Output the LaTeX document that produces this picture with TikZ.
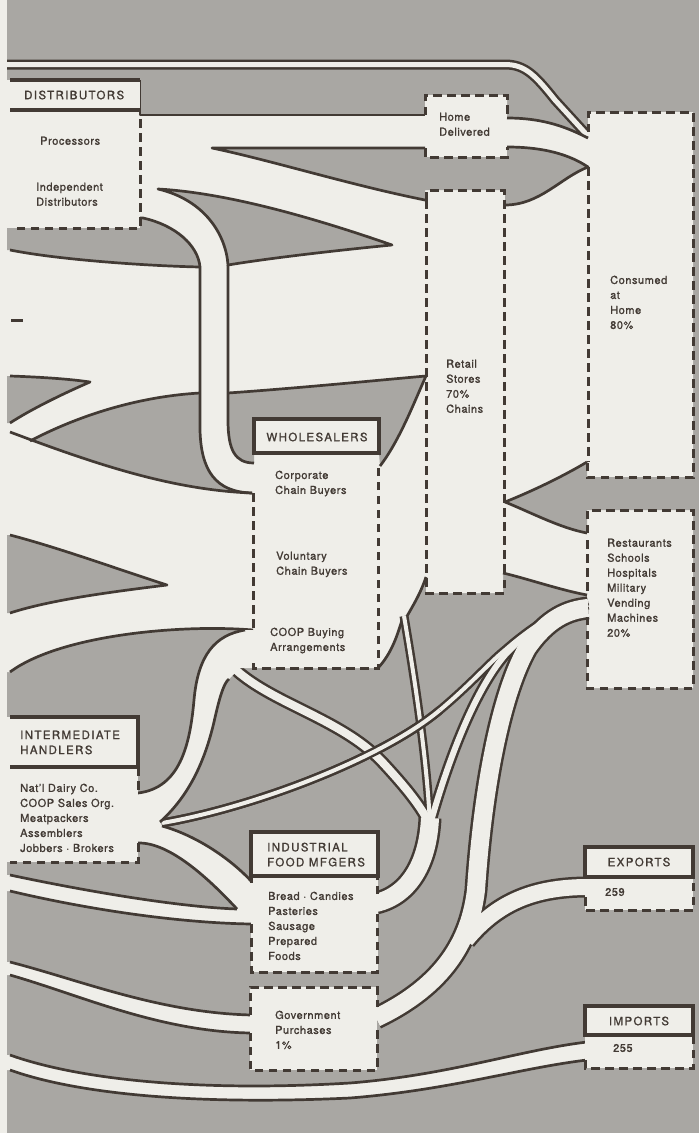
\documentclass[tikz,border=0pt]{standalone}
\usepackage{fontspec}
\setmainfont{TeX Gyre Heros}
\newfontfamily\txtfont[LetterSpace=5,FakeBold=1.2]{TeX Gyre Heros}
\newfontfamily\headfont[LetterSpace=12,FakeBold=1.2]{TeX Gyre Heros}
\definecolor{paper}{RGB}{239,238,233}
\definecolor{tone}{RGB}{169,167,163}
\definecolor{ink}{RGB}{66,58,52}
\tikzset{
  rim/.style={draw=ink,line width=2.7pt,line join=round},
  dashrim/.style={draw=ink,line width=3pt,dash pattern=on 8.5pt off 5.5pt},
  headrim/.style={draw=ink,line width=3.2pt},
  pipeink/.style={draw=ink,line width=#1+5pt},
  pipepaper/.style={draw=paper,line width=#1},
  txt/.style={anchor=north west,align=left,inner sep=0pt,text=ink,font=\txtfont\fontsize{11}{15}\selectfont},
  headtxt/.style={align=left,inner sep=0pt,text=ink,font=\headfont\fontsize{11.5}{15}\selectfont}
}
\begin{document}
\begin{tikzpicture}[x=1pt,y=1pt,yscale=-1]
\useasboundingbox (0,0) rectangle (699,1133);
%Shape: Rectangle (page and grey ground)
\fill[paper] (0,0) rectangle (699,1133);
\fill[tone] (7,0) rectangle (699,1133);

%Straight Lines (double line at the top)
\draw[pipeink=5pt] (7,64.5) -- (505,64.5) .. controls (525,64.5) and (535,75) .. (555,100) -- (588,136);
\draw[pipepaper=5pt] (7,64.5) -- (505,64.5) .. controls (525,64.5) and (535,75) .. (555,100) -- (588,136);

%Shape: Polygon (upper white field)
\fill[paper] (7,110) -- (140,110) -- (140,115) -- (425,115) -- (425,95) -- (507,95) -- (507,118) .. controls (545,118) and (568,128) .. (588,138) -- (588,112) -- (693,112) -- (693,688) -- (587,688) -- (587,595) .. controls (560,590) and (525,578) .. (503,573) -- (503,593) -- (426,593) -- (426,577) .. controls (420,595) and (412,607) .. (406,618) -- (402,620) .. controls (396,640) and (390,655) .. (378,668) -- (253,668) -- (253,630) .. controls (180,624) and (60,635) .. (10,672) -- (7,672) -- cycle;
\draw[rim] (140,80) -- (140,115) -- (425,115);
\draw[rim] (507,118) .. controls (545,118) and (568,128) .. (588,138);
\draw[rim] (587,595) .. controls (560,590) and (525,578) .. (503,573);
\draw[rim] (426,577) .. controls (420,595) and (412,607) .. (406,618);
\draw[rim] (402,620) .. controls (396,640) and (390,655) .. (378,668);
\draw[rim] (253,630) .. controls (180,624) and (60,635) .. (10,672);

%Shape: Polygon (wedge under Home Delivered)
\fill[tone] (212,148) -- (425,148) -- (425,157) -- (507,157) -- (507,147) .. controls (545,147) and (570,155) .. (588,167) .. controls (560,178) and (540,205) .. (505,205) -- (505,190) -- (425,190) -- (425,200) .. controls (350,185) and (270,160) .. (212,148) -- cycle;
\draw[rim] (425,148) -- (212,148) .. controls (270,160) and (350,185) .. (425,200);
\draw[rim] (507,147) .. controls (545,147) and (570,155) .. (588,167) .. controls (560,178) and (540,205) .. (505,205);
%Shape: Polygon (wedge beside the down stream)
\fill[tone] (158,189) .. controls (230,193) and (320,220) .. (392,245) .. controls (340,250) and (270,258) .. (228,265) .. controls (226,235) and (205,200) .. (158,189) -- cycle;
\draw[rim] (158,189) .. controls (230,193) and (320,220) .. (392,245) .. controls (340,250) and (270,258) .. (228,265) .. controls (226,235) and (205,200) .. (158,189) -- cycle;
%Shape: Polygon (under Distributors)
\fill[tone] (7,228) -- (140,228) -- (140,218) -- (143,218) .. controls (175,225) and (198,245) .. (200,267) .. controls (150,266) and (60,260) .. (10,250) -- (7,250) -- cycle;
\draw[rim] (200,267) .. controls (150,266) and (60,260) .. (10,250);
%Shape: Polygon (left wedge)
\fill[tone] (7,376) -- (10,376) .. controls (40,377) and (70,379) .. (90,382) .. controls (60,395) and (30,410) .. (10,423) -- (7,423) -- cycle;
\draw[rim] (10,376) .. controls (40,377) and (70,379) .. (90,382) .. controls (60,395) and (30,410) .. (10,423);
%Shape: Polygon (lens)
\fill[tone] (30,441) .. controls (70,420) and (130,397) .. (200,393) -- (200,430) .. controls (201,470) and (215,492) .. (252,493) .. controls (170,490) and (90,462) .. (10,432) -- cycle;
\draw[rim] (30,441) .. controls (70,420) and (130,397) .. (200,393);
\draw[rim] (252,493) .. controls (170,490) and (90,462) .. (10,432);
%Shape: Polygon (behind Wholesalers)
\fill[tone] (228,393) .. controls (300,388) and (380,380) .. (426,376) .. controls (415,400) and (400,440) .. (380,466) -- (379,453) -- (254,453) -- (254,463) .. controls (235,463) and (228,450) .. (228,420) -- cycle;
\draw[rim] (228,393) .. controls (300,388) and (380,380) .. (426,376) .. controls (415,400) and (400,440) .. (380,466);
%Shape: Polygon (left wedge, lower)
\fill[tone] (7,535) -- (10,535) .. controls (60,548) and (120,570) .. (167,585) .. controls (110,592) and (50,600) .. (10,613) -- (7,613) -- cycle;
\draw[rim] (10,535) .. controls (60,548) and (120,570) .. (167,585) .. controls (110,592) and (50,600) .. (10,613);
%Shape: Polygon (between Consumed and Restaurants)
\fill[tone] (505,502) .. controls (530,492) and (560,478) .. (587,462) -- (587,477) -- (699,477) -- (699,510) -- (587,510) -- (587,533) .. controls (560,528) and (530,512) .. (505,502) -- cycle;
\draw[rim] (587,462) .. controls (560,478) and (530,492) .. (505,502) .. controls (530,512) and (560,528) .. (587,533);

%Curve Lines (stream down to Wholesalers)
\draw[rim] (140,218) -- (143,218) .. controls (175,225) and (198,245) .. (200,267) -- (200,430) .. controls (201,470) and (215,492) .. (252,493);
\draw[rim] (228,265) -- (228,420) .. controls (228,450) and (235,463) .. (254,463);

%Curve Lines (pipes, lower half)
\foreach \pp in {pipeink,pipepaper}{
  \draw[\pp=8pt] (236,670) .. controls (275,705) and (345,720) .. (385,765) .. controls (408,790) and (422,808) .. (430,825);
  \draw[\pp=4pt] (404,616) .. controls (415,680) and (427,760) .. (430,825);
  \draw[\pp=6pt] (430,825) .. controls (448,760) and (475,690) .. (505,655) .. controls (530,628) and (560,610) .. (588,604);
  \draw[\pp=4pt] (162,823) .. controls (250,808) and (380,760) .. (440,710) .. controls (470,685) and (490,662) .. (505,650) .. controls (530,628) and (560,608) .. (588,601);
  \draw[\pp=18pt] (430,818) .. controls (428,862) and (410,895) .. (376,903);
  \draw[\pp=18pt] (376,1018) .. controls (445,985) and (470,940) .. (476,890) .. controls (482,800) and (498,700) .. (527,648) .. controls (548,618) and (568,610) .. (588,608);
  \draw[\pp=16pt] (588,887) .. controls (530,887) and (495,905) .. (466,940);
}
\draw[pipeink=4pt] (162,823) .. controls (250,808) and (380,760) .. (440,710);
\draw[pipepaper=4pt] (162,823) .. controls (250,808) and (380,760) .. (440,710);

%Shape: Polygon (S band to Intermediate Handlers)
\fill[paper] (253,630) -- (245,630) .. controls (215,635) and (198,655) .. (194,700) .. controls (190,745) and (180,788) .. (138,793) -- (138,843) -- (162,826) -- (160,822) .. controls (190,795) and (205,760) .. (214,722) .. controls (220,695) and (224,683) .. (229,679) -- (240,668) -- (253,668) -- cycle;
\draw[rim] (245,630) .. controls (215,635) and (198,655) .. (194,700) .. controls (190,745) and (180,788) .. (138,793);
\draw[rim] (160,822) .. controls (190,795) and (205,760) .. (214,722) .. controls (220,695) and (224,683) .. (229,679);
%Shape: Polygon (band to Industrial Food)
\fill[paper] (138,830) -- (162,826) .. controls (195,835) and (230,858) .. (252,882) -- (252,910) -- (237,909) .. controls (210,880) and (170,842) .. (138,843) -- cycle;
\draw[rim] (162,826) .. controls (195,835) and (230,858) .. (252,882);
\draw[rim] (138,843) .. controls (170,842) and (210,880) .. (237,909);
\fill[paper] (7,875) -- (10,875) .. controls (90,892) and (180,907) .. (237,909) -- (252,909) -- (252,924) .. controls (180,923) and (90,910) .. (10,891) -- (7,891) -- cycle;
\draw[rim] (10,875) .. controls (90,892) and (180,907) .. (237,909);
\draw[rim] (252,924) .. controls (180,923) and (90,910) .. (10,891);
%Shape: Polygon (band to Government)
\fill[paper] (7,962) -- (10,962) .. controls (80,980) and (160,1013) .. (252,1015) -- (252,1033) .. controls (160,1032) and (80,995) .. (10,975) -- (7,975) -- cycle;
\draw[rim] (10,962) .. controls (80,980) and (160,1013) .. (252,1015);
\draw[rim] (252,1033) .. controls (160,1032) and (80,995) .. (10,975);
%Shape: Polygon (band from Imports)
\fill[paper] (7,1055) -- (10,1055) .. controls (80,1080) and (200,1092) .. (350,1083) .. controls (450,1075) and (520,1050) .. (587,1042) -- (587,1060) .. controls (520,1068) and (450,1090) .. (350,1098) .. controls (200,1105) and (80,1095) .. (10,1070) -- (7,1070) -- cycle;
\draw[rim] (10,1055) .. controls (80,1080) and (200,1092) .. (350,1083) .. controls (450,1075) and (520,1050) .. (587,1042);
\draw[rim] (587,1060) .. controls (520,1068) and (450,1090) .. (350,1098) .. controls (200,1105) and (80,1095) .. (10,1070);

%Shape: Boxes
% Distributors
\fill[paper] (7,80) rectangle (140,110);
\draw[headrim] (10,80) -- (140,80);
\draw[headrim] (10,110) -- (140,110);
\draw[dashrim] (140,119) -- (140,228) -- (12,228);
% Home Delivered
\draw[dashrim] (425,115) -- (425,95) -- (507,95) -- (507,118);
\draw[dashrim] (425,148) -- (425,157) -- (507,157) -- (507,147);
% Consumed at Home
\draw[dashrim] (588,132) -- (588,112) -- (693,112) -- (693,477) -- (587,477) -- (587,462);
\draw[dashrim] (588,167) -- (588,462);
% Retail Stores
\draw[dashrim] (426,200) -- (426,190) -- (504,190) -- (504,573);
\draw[dashrim] (426,200) -- (426,577) -- (426,593) -- (504,593) -- (504,573);
% Wholesalers
\fill[paper] (254,419) rectangle (379,453);
\draw[headrim] (254,419) rectangle (379,453);
\draw[dashrim] (253,493) -- (253,630);
\draw[dashrim] (253,663) -- (253,668) -- (378,668) -- (378,467);
% Restaurants
\draw[dashrim] (587,533) -- (587,510) -- (693,510) -- (693,688) -- (587,688) -- (587,616);
\draw[dashrim] (587,540) -- (587,594);
% Intermediate Handlers
\fill[paper] (7,717) rectangle (138,862);
\draw[headrim] (10,717) -- (138,717) -- (138,767) -- (10,767);
\draw[dashrim] (138,767) -- (138,792);
\draw[dashrim] (138,843) -- (138,862) -- (10,862);
% Industrial Food Mfgers
\fill[paper] (251,832) rectangle (378,972);
\draw[headrim] (251,832) rectangle (378,876);
\draw[dashrim] (251,876) -- (251,883);
\draw[dashrim] (251,924) -- (251,972) -- (377,972) -- (377,912);
\draw[dashrim] (377,894) -- (377,876);
% Government Purchases
\fill[paper] (250,987) rectangle (377,1070);
\draw[dashrim] (250,1015) -- (250,987) -- (377,987) -- (377,1007);
\draw[dashrim] (377,1030) -- (377,1070) -- (250,1070) -- (250,1033);
% Exports
\fill[paper] (585,847) rectangle (693,910);
\draw[headrim] (585,847) rectangle (693,877);
\draw[dashrim] (585,897) -- (585,910) -- (693,910) -- (693,877);
% Imports
\fill[paper] (585,1006) rectangle (693,1068);
\draw[headrim] (585,1006) rectangle (693,1035);
\draw[dashrim] (585,1060) -- (585,1068) -- (693,1068) -- (693,1035);

%Straight Lines (small mark)
\draw[rim,line width=3pt] (11,320) -- (23,320);

% Text Node
\node[headtxt,anchor=west] (distHead) at (24,95) {DISTRIBUTORS};
\node[txt] (procTxt) at (40,136.5) {Processors};
\node[txt] (indepTxt) at (36,182.5) {Independent\\Distributors};
\node[txt] (homeTxt) at (439,112.5) {Home\\Delivered};
\node[txt] (consTxt) at (610,275.5) {Consumed\\at\\Home\\80\%};
\node[txt] (retailTxt) at (446,359.5) {Retail\\Stores\\70\%\\Chains};
\node[headtxt] (wholeHead) at (317,437) {WHOLESALERS};
\node[txt] (corpTxt) at (275,470.5) {Corporate\\Chain Buyers};
\node[txt] (volTxt) at (276,551.5) {Voluntary\\Chain Buyers};
\node[txt] (coopTxt) at (270,627.5) {COOP Buying\\Arrangements};
\node[txt] (restTxt) at (607,538.5) {Restaurants\\Schools\\Hospitals\\Military\\Vending\\Machines\\20\%};
\node[headtxt,anchor=north west] (interHead) at (20,730.5) {INTERMEDIATE\\HANDLERS};
\node[txt] (interTxt) at (20,783.5) {Nat’l Dairy Co.\\COOP Sales Org.\\Meatpackers\\Assemblers\\Jobbers · Brokers};
\node[headtxt,anchor=north west] (indHead) at (267,842.5) {INDUSTRIAL\\FOOD MFGERS};
\node[txt] (indTxt) at (268,891.5) {Bread · Candies\\Pasteries\\Sausage\\Prepared\\Foods};
\node[txt] (govTxt) at (275,1010.5) {Government\\Purchases\\1\%};
\node[headtxt] (expHead) at (639,862) {EXPORTS};
\node[txt,anchor=west] (expTxt) at (605,892) {259};
\node[headtxt] (impHead) at (639,1021) {IMPORTS};
\node[txt,anchor=west] (impTxt) at (613,1048) {255};
\end{tikzpicture}
\end{document}
